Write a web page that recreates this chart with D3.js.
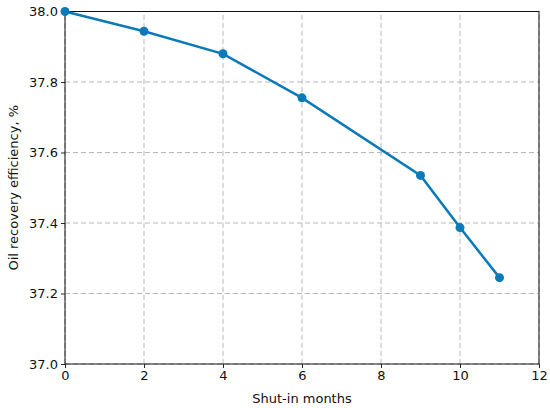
<!DOCTYPE html>
<html>
<head>
<meta charset="utf-8">
<script src="https://cdn.jsdelivr.net/npm/d3@7"></script>
<style>
  body { margin: 0; background: #fff; }
  text { font-family: "DejaVu Sans", sans-serif; fill: #111; }
</style>
</head>
<body>
<svg id="chart" width="550" height="408"></svg>
<script>
// data
const months = [0, 2, 4, 6, 9, 10, 11];
const recovery = [38.0, 37.944, 37.880, 37.755, 37.535, 37.387, 37.245];
const xTicks = [0, 2, 4, 6, 8, 10, 12];
const yTicks = [37.0, 37.2, 37.4, 37.6, 37.8, 38.0];

const WIDTH = 550;
const HEIGHT = 408;
const margin = { top: 11.5, right: 11, bottom: 44, left: 65 };
const lineColor = "#0a7ab8";

const svg = d3.select("#chart");

const x = d3.scaleLinear().domain([0, 12]).range([margin.left, WIDTH - margin.right]);
const y = d3.scaleLinear().domain([37.0, 38.0]).range([HEIGHT - margin.bottom, margin.top]);

// grid
svg.append("g")
  .selectAll("line")
  .data(xTicks)
  .enter()
  .append("line")
  .attr("x1", d => x(d)).attr("x2", d => x(d))
  .attr("y1", y(37.0)).attr("y2", y(38.0))
  .attr("stroke", "#b0b0b0").attr("stroke-width", 0.9)
  .attr("stroke-dasharray", "5,3");

svg.append("g")
  .selectAll("line")
  .data(yTicks)
  .enter()
  .append("line")
  .attr("x1", x(0)).attr("x2", x(12))
  .attr("y1", d => y(d)).attr("y2", d => y(d))
  .attr("stroke", "#b0b0b0").attr("stroke-width", 0.9)
  .attr("stroke-dasharray", "5,3");

// axes
const xAxis = d3.axisBottom(x).tickValues(xTicks).tickSize(4).tickPadding(3).tickFormat(d3.format("d"));
const yAxis = d3.axisLeft(y).tickValues(yTicks).tickSize(4).tickPadding(3).tickFormat(d3.format(".1f"));

svg.append("g")
  .attr("transform", `translate(0,${y(37.0)})`)
  .call(xAxis)
  .call(g => g.select(".domain").remove())
  .selectAll("text").style("font-size", "13px").attr("fill", "#111");

svg.append("g")
  .attr("transform", `translate(${x(0)},0)`)
  .call(yAxis)
  .call(g => g.select(".domain").remove())
  .selectAll("text").style("font-size", "13px").attr("fill", "#111");

svg.selectAll(".tick line").attr("stroke", "#111").attr("stroke-width", 0.9);

// frame
svg.append("rect")
  .attr("x", x(0)).attr("y", y(38.0))
  .attr("width", x(12) - x(0)).attr("height", y(37.0) - y(38.0))
  .attr("fill", "none").attr("stroke", "#111").attr("stroke-width", 1);

// line + markers
const pts = months.map((m, i) => [m, recovery[i]]);

svg.append("path")
  .datum(pts)
  .attr("d", d3.line().x(d => x(d[0])).y(d => y(d[1])))
  .attr("fill", "none")
  .attr("stroke", lineColor)
  .attr("stroke-width", 2.5);

svg.append("g")
  .selectAll("circle")
  .data(pts)
  .enter()
  .append("circle")
  .attr("cx", d => x(d[0]))
  .attr("cy", d => y(d[1]))
  .attr("r", 4.5)
  .attr("fill", lineColor);

// labels
svg.append("text")
  .attr("x", (x(0) + x(12)) / 2)
  .attr("y", 403)
  .attr("text-anchor", "middle")
  .style("font-size", "13px")
  .text("Shut-in months");

svg.append("text")
  .attr("transform", `translate(18,${(y(37.0) + y(38.0)) / 2}) rotate(-90)`)
  .attr("text-anchor", "middle")
  .style("font-size", "13px")
  .text("Oil recovery efficiency, %");
</script>
</body>
</html>
